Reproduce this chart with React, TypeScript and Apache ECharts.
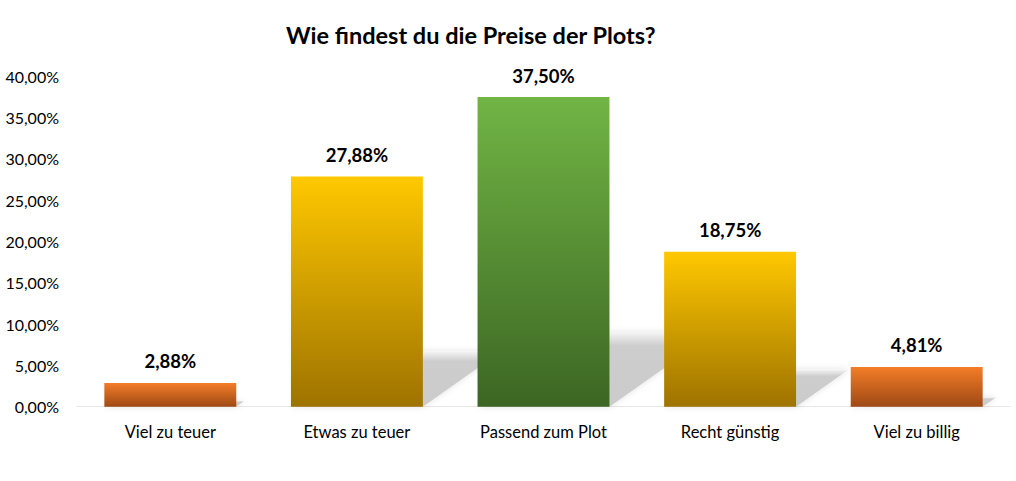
import React, { useEffect, useRef } from "react";
import * as echarts from "echarts";

const titleText = "Wie findest du die Preise der Plots?";
const categories = ["Viel zu teuer", "Etwas zu teuer", "Passend zum Plot", "Recht günstig", "Viel zu billig"];
const values = [2.88, 27.88, 37.5, 18.75, 4.81];
const yMin = 0;
const yMax = 40;
const yStep = 5;

const topColors = ["#F47D28", "#FFC800", "#71B545", "#FFC800", "#F47D28"];
const bottomColors = ["#9E4915", "#9E7300", "#3C6623", "#9E7300", "#9E4915"];

const fmt = (v: number) => v.toFixed(2).replace(".", ",") + "%";
const FONT = "Lato, 'Open Sans', sans-serif";

export default function App() {
  const ref = useRef<HTMLDivElement>(null);
  useEffect(() => {
    if (!ref.current) return;
    const chart = echarts.init(ref.current, undefined, { renderer: "svg" });
    const barFrac = 0.707;
    chart.setOption({
      animation: false,
      backgroundColor: "#ffffff",
      textStyle: { fontFamily: FONT },
      title: {
        text: titleText,
        left: 281,
        top: 18,
        textStyle: { fontFamily: FONT, fontWeight: "bold", fontSize: 23.5, color: "#000" },
      },
      grid: { left: 77, right: 6, top: 76.4, bottom: 74.3 },
      xAxis: {
        type: "category",
        data: categories,
        axisTick: { show: false },
        axisLine: { show: true, lineStyle: { color: "#e6e6e6", width: 1 } },
        axisLabel: { color: "#000", fontSize: 16.5, fontFamily: FONT, margin: 17 },
      },
      yAxis: {
        type: "value",
        min: yMin,
        max: yMax,
        interval: yStep,
        splitLine: { show: false },
        axisLine: { show: false },
        axisTick: { show: false },
        axisLabel: { color: "#000", fontSize: 16, fontFamily: FONT, margin: 18, formatter: (v: number) => fmt(v) },
      },
      series: [
        {
          type: "custom",
          z: 1,
          silent: true,
          data: values.map((v, i) => [i, v]),
          encode: { x: 0, y: 1 },
          renderItem: (params: any, api: any) => {
            const i = api.value(0);
            const v = api.value(1);
            const base = api.coord([i, 0]);
            const top = api.coord([i, v]);
            const bw = api.size([1, 0])[0] * barFrac;
            const x0 = base[0] - bw / 2;
            const x1 = base[0] + bw / 2;
            const h = base[1] - top[1];
            const sh = h * 0.24;
            const dx = h * 0.34;
            return {
              type: "polygon",
              shape: {
                points: [
                  [x0, base[1]],
                  [x1, base[1]],
                  [x1 + dx, base[1] - sh],
                  [x0 + dx, base[1] - sh],
                ],
              },
              style: {
                fill: new echarts.graphic.LinearGradient(0, 0, 0, 1, [
                  { offset: 0, color: "#f4f4f4" },
                  { offset: 0.18, color: "#cdcdcd" },
                  { offset: 1, color: "#cbcbcb" },
                ]),
                shadowBlur: 6,
                shadowColor: "rgba(0,0,0,0.12)",
              },
            };
          },
        },
        {
          type: "bar",
          z: 2,
          data: values,
          barWidth: "70.7%",
          itemStyle: {
            color: (p: any) =>
              new echarts.graphic.LinearGradient(0, 0, 0, 1, [
                { offset: 0, color: topColors[p.dataIndex] },
                { offset: 1, color: bottomColors[p.dataIndex] },
              ]),
          },
          label: {
            show: true,
            position: "top",
            distance: 12,
            formatter: (p: any) => fmt(p.value),
            fontFamily: FONT,
            fontWeight: "bold",
            fontSize: 18.5,
            color: "#000",
          },
        },
      ],
    });
    return () => chart.dispose();
  }, []);
  return (
    <div
      ref={ref}
      style={{ position: "fixed", left: 0, top: 0, width: 1016, height: 481, background: "#fff" }}
    />
  );
}
